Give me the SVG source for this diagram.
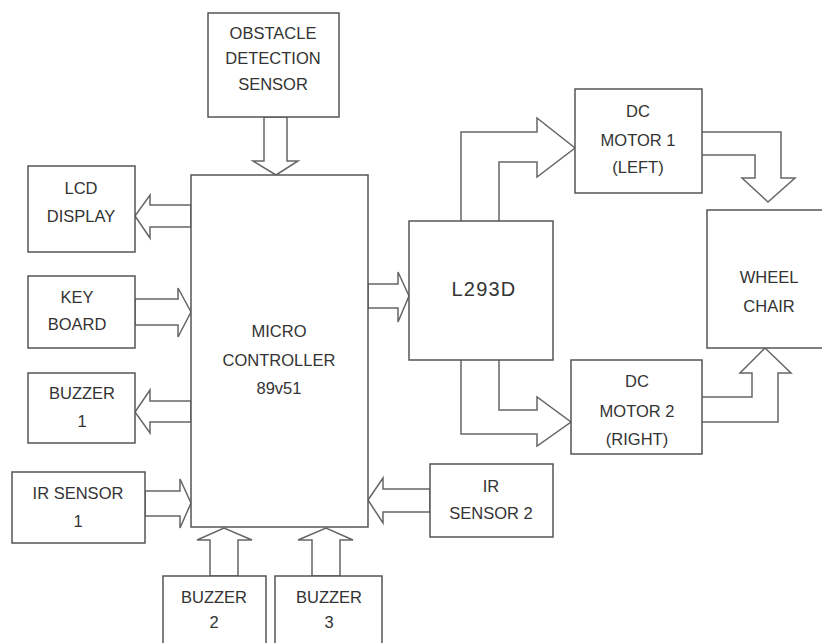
<svg xmlns="http://www.w3.org/2000/svg" width="822" height="643" viewBox="0 0 822 643">
<style>
.box{fill:#fff;stroke:#555;stroke-width:1.5}
.arr{fill:#fff;stroke:#666;stroke-width:1.5;stroke-linejoin:miter}
text{font-family:"Liberation Sans",Arial,sans-serif;font-size:16.5px;fill:#333;text-anchor:middle}
.big{font-size:20px;letter-spacing:1.2px}
</style>
<rect width="822" height="643" fill="#fff"/>
<g id="connectors">
<polygon class="arr" points="191,205 150,205 150,195 135,216 150,238 150,227 191,227"/>
<polygon class="arr" points="135,299 178,299 178,288 191,312 178,337 178,325 135,325"/>
<polygon class="arr" points="191,401 150,401 150,390 135,412 150,433 150,422 191,422"/>
<polygon class="arr" points="145,491 180,491 180,479 191,503 180,528 180,516 145,516"/>
<polygon class="arr" points="264,117 264,161 253,161 276,175 298,161 287,161 287,117"/>
<polygon class="arr" points="210,576 210,540 197,540 224,528 252,540 238,540 238,576"/>
<polygon class="arr" points="312,576 312,540 298,540 326,528 353,540 340,540 340,576"/>
<polygon class="arr" points="430,489 383,489 383,478 368,500 383,523 383,512 430,512"/>
<polygon class="arr" points="368,284 398,284 398,272 409,296 398,322 398,308 368,308"/>
<polyline class="arr" points="461,221 461,132 537,132 537,118 575,148 537,177 537,162 499,162 499,221"/>
<polyline class="arr" points="499,360 499,410 537,410 537,397 571,422 537,446 537,434 461,434 461,360"/>
<polyline class="arr" points="702,132 781,132 781,178 795,178 768,202 742,178 755,178 755,155 702,155"/>
<polyline class="arr" points="702,397 752,397 752,373 740,373 765,348 791,373 778,373 778,422 702,422"/>
</g>
<g id="obstacle"><rect class="box" x="208" y="13" width="131" height="104"/>
<text x="273" y="39">OBSTACLE</text><text x="273" y="64">DETECTION</text><text x="273" y="90">SENSOR</text></g>
<g id="mcu"><rect class="box" x="191" y="175" width="177" height="352"/>
<text x="279" y="337">MICRO</text><text x="279" y="366">CONTROLLER</text><text x="279" y="394">89v51</text></g>
<g id="lcd"><rect class="box" x="28" y="166" width="107" height="86"/>
<text x="81" y="194">LCD</text><text x="81" y="222">DISPLAY</text></g>
<g id="keyboard"><rect class="box" x="28" y="276" width="107" height="72"/>
<text x="77" y="303">KEY</text><text x="77" y="330">BOARD</text></g>
<g id="buzzer1"><rect class="box" x="28" y="373" width="107" height="70"/>
<text x="82" y="399">BUZZER</text><text x="82" y="427">1</text></g>
<g id="ir1"><rect class="box" x="12" y="472" width="133" height="71"/>
<text x="78" y="499">IR SENSOR</text><text x="78" y="527">1</text></g>
<g id="buzzer2"><rect class="box" x="163" y="576" width="103" height="80"/>
<text x="214" y="603">BUZZER</text><text x="214" y="628">2</text></g>
<g id="buzzer3"><rect class="box" x="275" y="576" width="107" height="80"/>
<text x="329" y="603">BUZZER</text><text x="329" y="628">3</text></g>
<g id="ir2"><rect class="box" x="430" y="464" width="123" height="73"/>
<text x="491" y="492">IR</text><text x="491" y="519">SENSOR 2</text></g>
<g id="l293d"><rect class="box" x="409" y="221" width="144" height="139"/>
<text class="big" x="484" y="296">L293D</text></g>
<g id="motor1"><rect class="box" x="575" y="89" width="127" height="104"/>
<text x="638" y="117">DC</text><text x="638" y="146">MOTOR 1</text><text x="638" y="173">(LEFT)</text></g>
<g id="motor2"><rect class="box" x="571" y="360" width="131" height="94"/>
<text x="637" y="387">DC</text><text x="637" y="417">MOTOR 2</text><text x="637" y="445">(RIGHT)</text></g>
<g id="wheelchair"><rect class="box" x="707" y="210" width="130" height="138"/>
<text x="769" y="283">WHEEL</text><text x="769" y="312">CHAIR</text></g>
</svg>
